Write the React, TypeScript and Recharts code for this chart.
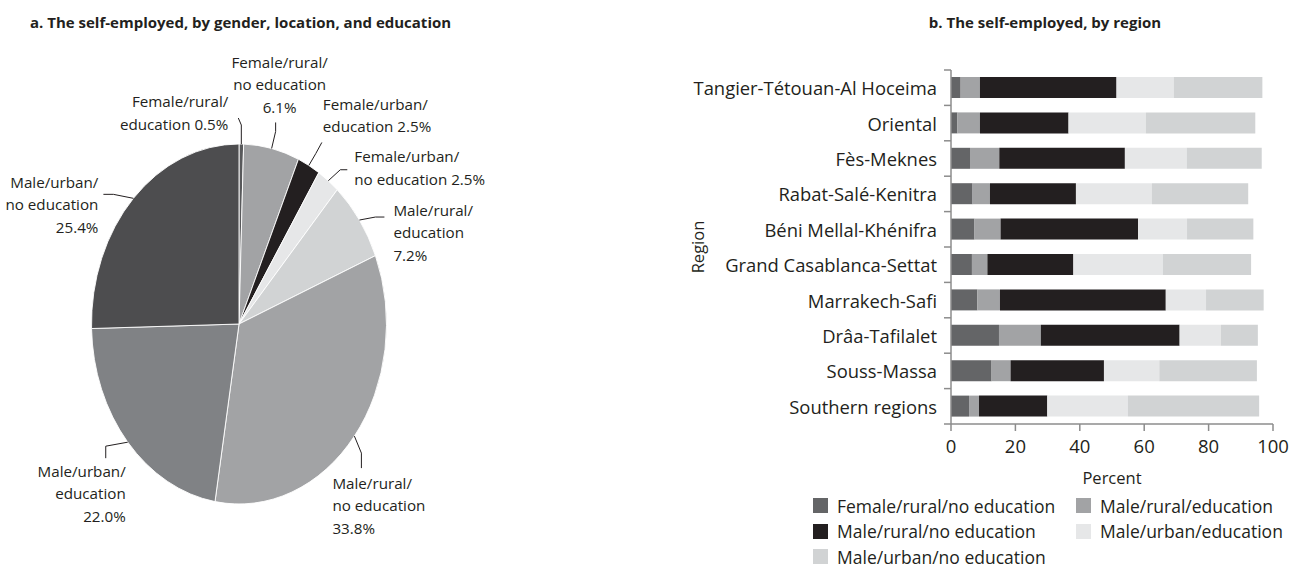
import { PieChart, Pie, Cell, BarChart, Bar, XAxis, YAxis } from "recharts";

const FONT = '"Open Sans", "Noto Sans", sans-serif';
const INK = "#231f20";
const AXIS = "#8c8c8c";

// panel a: shares of the self-employed (percent), clockwise from 12 o'clock
const pieCategories = [
  "Female/rural/education",
  "Female/rural/no education",
  "Female/urban/education",
  "Female/urban/no education",
  "Male/rural/education",
  "Male/rural/no education",
  "Male/urban/education",
  "Male/urban/no education",
];
const pieShares = [0.5, 6.1, 2.5, 2.5, 7.2, 33.8, 22.0, 25.4];
const pieColors = ["#58595b", "#a2a3a5", "#231f20", "#e6e7e8", "#d1d3d4", "#a2a3a5", "#808285", "#4d4d4f"];

// panel b: regions, top to bottom
const regions = [
  "Tangier-Tétouan-Al Hoceima",
  "Oriental",
  "Fès-Meknes",
  "Rabat-Salé-Kenitra",
  "Béni Mellal-Khénifra",
  "Grand Casablanca-Settat",
  "Marrakech-Safi",
  "Drâa-Tafilalet",
  "Souss-Massa",
  "Southern regions",
];
const femaleRuralNoEdu = [3.0, 2.0, 5.9, 6.7, 7.3, 6.5, 8.2, 14.9, 12.6, 5.6];
const maleRuralEdu = [6.0, 7.0, 9.1, 5.4, 8.1, 4.8, 7.0, 13.0, 5.9, 3.1];
const maleRuralNoEdu = [42.4, 27.5, 39.0, 26.7, 42.7, 26.7, 51.5, 43.1, 29.0, 21.2];
const maleUrbanEdu = [17.8, 24.0, 19.2, 23.6, 15.2, 27.8, 12.5, 12.8, 17.2, 25.0];
const maleUrbanNoEdu = [27.5, 34.0, 23.3, 29.9, 20.6, 27.4, 17.9, 11.5, 30.3, 40.8];
const percentTicks = [0, 20, 40, 60, 80, 100];

const barSeries = [
  { key: "frn", name: "Female/rural/no education", values: femaleRuralNoEdu, color: "#646567" },
  { key: "mre", name: "Male/rural/education", values: maleRuralEdu, color: "#a2a3a5" },
  { key: "mrn", name: "Male/rural/no education", values: maleRuralNoEdu, color: "#231f20" },
  { key: "mue", name: "Male/urban/education", values: maleUrbanEdu, color: "#e6e7e8" },
  { key: "mun", name: "Male/urban/no education", values: maleUrbanNoEdu, color: "#d1d3d4" },
];

const pieData = pieCategories.map((name, i) => ({ name, value: pieShares[i] }));
const regionRows = regions.map((region, i) => {
  const row: Record<string, string | number> = { region };
  barSeries.forEach((s) => (row[s.key] = s.values[i]));
  return row;
});

// pie geometry: the original pie is an upright ellipse
const PIE_CX = 239;
const PIE_CY = 324;
const PIE_RX = 147.5;
const PIE_RY = 180;
const NO_MARGIN = { top: 0, right: 0, bottom: 0, left: 0 };

// label placement relative to the slice's edge point
const pieLabelLayout = [
  { leader: [[0, -19], [-3, -26]], dx: -13, dy: -42, anchor: "end", inline: true },
  { leader: [[4, -17], [4, -26]], dx: 8, dy: -86, anchor: "middle", inline: false },
  { leader: [[7, -12], [13, -23]], dx: 14, dy: -61, anchor: "start", inline: true },
  { leader: [[12, -11], [19, -11]], dx: 26, dy: -24, anchor: "start", inline: true },
  { leader: [[16, -3], [25, -3]], dx: 34, dy: -10, anchor: "start", inline: false },
  { leader: [[7, 17], [7, 32]], dx: -22, dy: 47, anchor: "start", inline: false },
  { leader: [[-22, 4], [-22, 16]], dx: -2, dy: 29, anchor: "end", inline: false },
  { leader: [[-20, -4], [-30, -4]], dx: -35, dy: -16, anchor: "end", inline: false },
];

const RAD = Math.PI / 180;

function labelLines(name: string, value: number, inline: boolean) {
  const cut = name.lastIndexOf("/") + 1;
  const head = name.slice(0, cut);
  const tail = name.slice(cut);
  const pct = `${value.toFixed(1)}%`;
  return inline ? [head, `${tail} ${pct}`] : [head, tail, pct];
}

function PieLabel(props: any) {
  const { cx, cy, midAngle, index, value, name } = props;
  const lay = pieLabelLayout[index];
  const ex = cx + PIE_RX * Math.cos(midAngle * RAD);
  const ey = cy - PIE_RY * Math.sin(midAngle * RAD);
  const pts = [[ex, ey], ...lay.leader.map(([a, b]) => [ex + a, ey + b])];
  const lines = labelLines(name, value, lay.inline);
  const tx = ex + lay.dx;
  const fs = 15.2;
  return (
    <g>
      <polyline points={pts.map((p) => p.join(",")).join(" ")} fill="none" stroke={INK} strokeWidth={1} />
      <text x={tx} textAnchor={lay.anchor} fontFamily={FONT} fontSize={fs} fill={INK}>
        {lines.map((l, i) => (
          <tspan key={i} x={tx} y={ey + lay.dy + i * 22.5 + fs * 0.36}>
            {l}
          </tspan>
        ))}
      </text>
    </g>
  );
}

function RegionTick(props: any) {
  const { x, y, payload, index } = props;
  const half = payload?.offset || 354 / regions.length / 2;
  const x1 = x + 7;
  const x2 = x + 14;
  return (
    <g>
      <line x1={x1} x2={x2} y1={y - half} y2={y - half} stroke={AXIS} strokeWidth={1.5} />
      {index === regions.length - 1 && (
        <line x1={x1} x2={x2} y1={y + half} y2={y + half} stroke={AXIS} strokeWidth={1.5} />
      )}
      <text x={x} y={y} textAnchor="end" dominantBaseline="central" fontFamily={FONT} fontSize={18.4} fill={INK}>
        {payload.value}
      </text>
    </g>
  );
}

const titleStyle: React.CSSProperties = {
  position: "absolute",
  top: 12,
  fontFamily: FONT,
  fontWeight: 700,
  fontSize: 15,
  lineHeight: "20px",
  color: INK,
  whiteSpace: "nowrap",
};

export default function App() {
  return (
    <div
      style={{
        position: "absolute",
        left: 0,
        top: 0,
        width: 1291,
        height: 569,
        background: "#fff",
        overflow: "hidden",
        fontFamily: FONT,
      }}
    >
      <div style={{ ...titleStyle, left: 30 }}>a. The self-employed, by gender, location, and education</div>
      <div style={{ ...titleStyle, left: 1045, transform: "translateX(-50%)" }}>b. The self-employed, by region</div>

      {/* sectors, stretched vertically into the original ellipse */}
      <div
        style={{
          position: "absolute",
          left: 0,
          top: 0,
          width: 640,
          height: 569,
          transform: `scaleY(${PIE_RY / PIE_RX})`,
          transformOrigin: `${PIE_CX}px ${PIE_CY}px`,
        }}
      >
        <PieChart width={640} height={569} margin={NO_MARGIN}>
          <Pie
            data={pieData}
            dataKey="value"
            nameKey="name"
            cx={PIE_CX}
            cy={PIE_CY}
            outerRadius={PIE_RX}
            startAngle={90}
            endAngle={-270}
            stroke="#fff"
            strokeWidth={0.8}
            isAnimationActive={false}
          >
            {pieData.map((d, i) => (
              <Cell key={d.name} fill={pieColors[i]} />
            ))}
          </Pie>
        </PieChart>
      </div>

      {/* labels and leader lines, unstretched */}
      <div style={{ position: "absolute", left: 0, top: 0 }}>
        <PieChart width={640} height={569} margin={NO_MARGIN}>
          <Pie
            data={pieData}
            dataKey="value"
            nameKey="name"
            cx={PIE_CX}
            cy={PIE_CY}
            outerRadius={PIE_RX}
            startAngle={90}
            endAngle={-270}
            stroke="none"
            label={PieLabel}
            labelLine={false}
            isAnimationActive={false}
          >
            {pieData.map((d) => (
              <Cell key={d.name} fill="transparent" />
            ))}
          </Pie>
        </PieChart>
      </div>

      <div style={{ position: "absolute", left: 0, top: 0 }}>
        <BarChart
          width={1291}
          height={569}
          data={regionRows}
          layout="vertical"
          margin={{ top: 70, right: 18, bottom: 115, left: 690 }}
          barSize={21}
        >
          <XAxis
            type="number"
            domain={[0, 100]}
            ticks={percentTicks}
            height={30}
            axisLine={{ stroke: AXIS, strokeWidth: 1.5 }}
            tickLine={{ stroke: AXIS, strokeWidth: 1.5 }}
            tickSize={7}
            tickMargin={9}
            tick={{ fontFamily: FONT, fontSize: 18.5, fill: INK }}
            label={{ value: "Percent", position: "bottom", offset: 18, fontFamily: FONT, fontSize: 16.5, fill: INK }}
          />
          <YAxis
            type="category"
            dataKey="region"
            width={261}
            axisLine={{ stroke: AXIS, strokeWidth: 1.5 }}
            tickLine={false}
            tickSize={7}
            tickMargin={7}
            interval={0}
            tick={RegionTick}
            label={{
              value: "Region",
              angle: -90,
              position: "insideLeft",
              offset: 8,
              style: { textAnchor: "middle" },
              fontFamily: FONT,
              fontSize: 16.5,
              fill: INK,
            }}
          />
          {barSeries.map((s) => (
            <Bar key={s.key} dataKey={s.key} name={s.name} stackId="self" fill={s.color} isAnimationActive={false} />
          ))}
        </BarChart>
      </div>

      {/* legend */}
      <div
        style={{
          position: "absolute",
          left: 813,
          top: 493,
          display: "grid",
          gridTemplateColumns: "263px auto",
          rowGap: 0,
        }}
      >
        {barSeries.map((s) => (
          <div key={s.key} style={{ display: "flex", alignItems: "center", height: 25.5 }}>
            <span style={{ width: 15, height: 15, background: s.color, marginRight: 9, flex: "none" }} />
            <span style={{ fontSize: 17.5, lineHeight: "18px", color: INK, whiteSpace: "nowrap" }}>{s.name}</span>
          </div>
        ))}
      </div>
    </div>
  );
}
